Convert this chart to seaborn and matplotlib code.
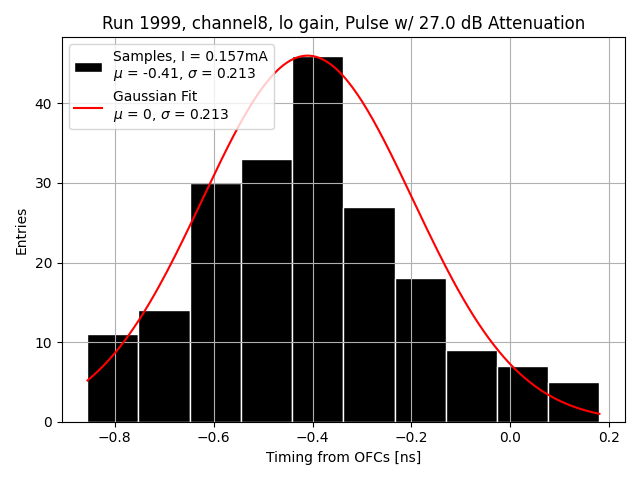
import numpy as np
import pandas as pd
import matplotlib
matplotlib.use('Agg')
import matplotlib.pyplot as plt
import seaborn as sns

# Histogram
bin_edges = [-0.855, -0.752, -0.648, -0.545, -0.441, -0.338, -0.234, -0.131, -0.027, 0.076, 0.180]
counts = [11, 14, 30, 33, 46, 27, 18, 9, 7, 5]

# Gaussian fit parameters
fit_amp = 46.0
fit_mu = -0.41
fit_sigma = 0.213

centers = [(a + b) / 2 for a, b in zip(bin_edges[:-1], bin_edges[1:])]
df = pd.DataFrame({'timing': centers, 'entries': counts})

fig, ax = plt.subplots(figsize=(6.4, 4.8), dpi=100)
sns.histplot(data=df, x='timing', weights='entries', bins=bin_edges,
             color='black', edgecolor='white', linewidth=1, alpha=1,
             label='Samples, I = 0.157mA\n$\\mu$ = -0.41, $\\sigma$ = 0.213', ax=ax)

xs = np.linspace(bin_edges[0], bin_edges[-1], 200)
ys = fit_amp * np.exp(-(xs - fit_mu) ** 2 / (2 * fit_sigma ** 2))
sns.lineplot(x=xs, y=ys, color='red', label='Gaussian Fit\n$\\mu$ = 0, $\\sigma$ = 0.213', ax=ax)

ax.grid(True)
ax.set_title('Run 1999, channel8, lo gain, Pulse w/ 27.0 dB Attenuation')
ax.set_xlabel('Timing from OFCs [ns]')
ax.set_ylabel('Entries')
handles, labels = ax.get_legend_handles_labels()
order = sorted(range(len(labels)), key=lambda i: not labels[i].startswith('Samples'))
ax.legend([handles[i] for i in order], [labels[i] for i in order], loc='upper left')
fig.tight_layout()
fig.savefig('out.png')
